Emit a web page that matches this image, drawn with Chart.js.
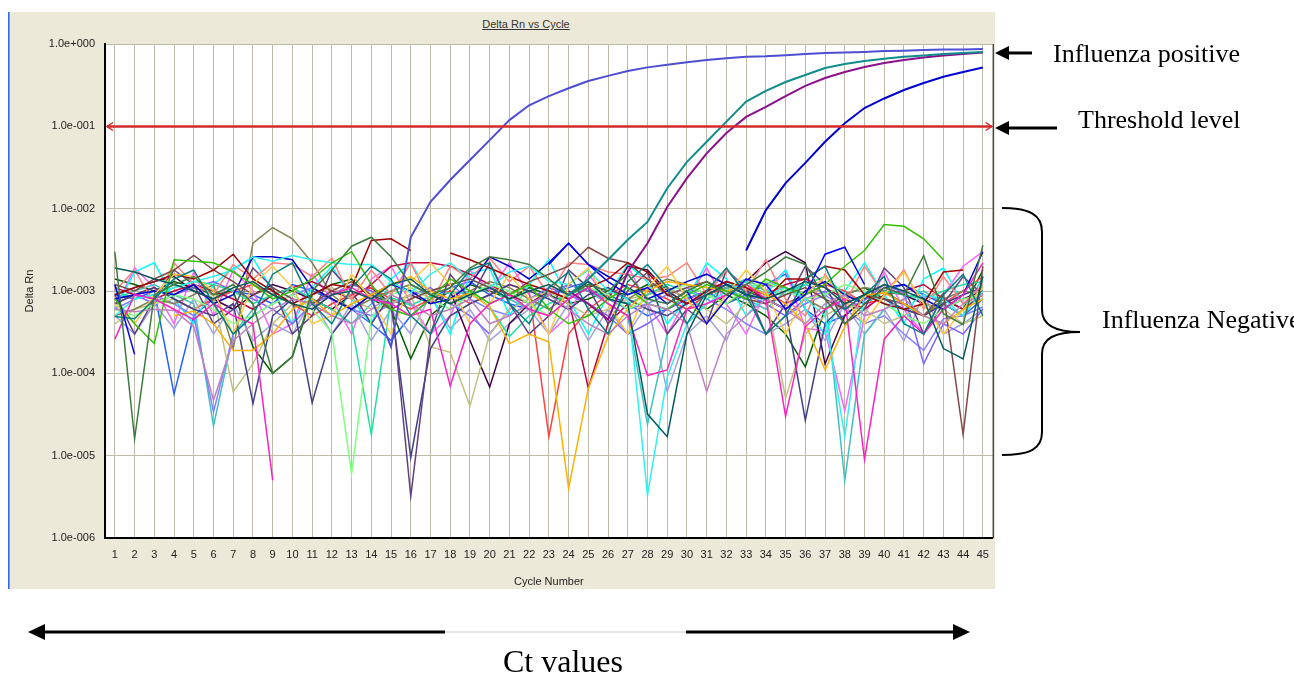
<!DOCTYPE html>
<html>
<head>
<meta charset="utf-8">
<title>Delta Rn vs Cycle</title>
<script src="https://cdn.jsdelivr.net/npm/chart.js@4.4.0/dist/chart.umd.min.js"></script>
<style>
  body { margin: 0; width: 1294px; height: 675px; overflow: hidden; background: #fff; position: relative; }
  #panel { position: absolute; left: 8px; top: 12px; width: 987px; height: 577px; background: #ECE9D8;
           border-left: 1px solid #2F6BE8; box-shadow: inset 1px 0 0 #9A9A9A; box-sizing: border-box; }
  #chartBox { position: absolute; left: 10px; top: 12px; width: 989px; height: 577px; }
  #chartTitle { position: absolute; left: 426px; top: 18px; width: 200px; text-align: center;
                font: 11px "Liberation Sans", Arial, sans-serif; line-height: 13px; color: #333; text-decoration: underline; }
  .note { position: absolute; font-family: "Liberation Serif", "Times New Roman", serif; font-size: 26px; line-height: 26px;
          color: #000; white-space: nowrap; }
  svg { position: absolute; left: 0; top: 0; }
</style>
</head>
<body>
<div id="panel"></div>
<div id="chartTitle">Delta Rn vs Cycle</div>
<div id="chartBox"><canvas id="pcrChart" width="989" height="577"></canvas></div>

<svg width="1294" height="675">
  <!-- positive arrow -->
  <line x1="1032" y1="53" x2="1006" y2="53" stroke="#000" stroke-width="3"/>
  <polygon points="995,53 1009,46 1009,60" fill="#000"/>
  <!-- threshold arrow -->
  <line x1="1057" y1="128" x2="1006" y2="128" stroke="#000" stroke-width="3"/>
  <polygon points="995,128 1009,121 1009,135" fill="#000"/>
  <!-- brace -->
  <path d="M1002,208 C1030,208 1042,215 1042,232 L1042,310 C1042,325 1055,332 1080,332 C1055,332 1042,338 1042,354 L1042,432 C1042,449 1030,455 1002,455"
        fill="none" stroke="#000" stroke-width="2"/>
  <!-- Ct arrow -->
  <line x1="40" y1="632" x2="445" y2="632" stroke="#000" stroke-width="3"/>
  <line x1="445" y1="632" x2="686" y2="632" stroke="#C8C8C8" stroke-width="1"/>
  <line x1="686" y1="632" x2="958" y2="632" stroke="#000" stroke-width="3"/>
  <polygon points="28,632 45,624 45,640" fill="#000"/>
  <polygon points="970,632 953,624 953,640" fill="#000"/>
</svg>

<div class="note" style="left:1053px; top:41px;">Influenza positive</div>
<div class="note" style="left:1078px; top:107px;">Threshold level</div>
<div class="note" style="left:1102px; top:307px;">Influenza Negative</div>
<div class="note" style="left:503px; top:645px; font-size:32px; line-height:32px;">Ct values</div>

<script>
// x categories (cycle number)
const cycles = [1, 2, 3, 4, 5, 6, 7, 8, 9, 10, 11, 12, 13, 14, 15, 16, 17, 18, 19, 20, 21, 22, 23,
                24, 25, 26, 27, 28, 29, 30, 31, 32, 33, 34, 35, 36, 37, 38, 39, 40, 41, 42, 43, 44, 45];

// y axis (log)
const yTickValues = [1e-6, 1e-5, 1e-4, 1e-3, 1e-2, 1e-1, 1];
const yTickLabels = ['1.0e-006', '1.0e-005', '1.0e-004', '1.0e-003', '1.0e-002', '1.0e-001', '1.0e+000'];
const THRESHOLD = 0.1;

// influenza positive curves (Delta Rn), first value is at the start cycle
const posAStart = 14;
const posA = [8e-4, 2.1e-4, 4.5e-3, 1.21e-2, 2.23e-2, 3.9e-2, 6.8e-2, 0.119, 0.18, 0.233, 0.29, 0.355, 0.41, 0.47,
              0.52, 0.56, 0.60, 0.64, 0.67, 0.70, 0.71, 0.73, 0.755, 0.777, 0.79, 0.80, 0.82, 0.83, 0.845, 0.857, 0.86, 0.87];
const posBStart = 24;
const posB = [9e-4, 1.4e-3, 2.4e-3, 4.2e-3, 6.9e-3, 1.77e-2, 3.7e-2, 6.5e-2, 0.114, 0.2, 0.27, 0.345, 0.42, 0.51,
              0.57, 0.62, 0.66, 0.70, 0.725, 0.756, 0.777, 0.80];
const posCStart = 24;
const posC = [1e-3, 7e-4, 4.5e-4, 1.7e-3, 3.8e-3, 1.05e-2, 2.35e-2, 4.7e-2, 8.3e-2, 0.13, 0.172, 0.233, 0.31, 0.386,
              0.457, 0.525, 0.588, 0.64, 0.686, 0.725, 0.756, 0.79];
const posDStart = 33;
const posD = [3.1e-3, 9.6e-3, 2.04e-2, 3.6e-2, 6.5e-2, 0.109, 0.167, 0.218, 0.276, 0.336, 0.40, 0.457, 0.518];

// influenza negative wells, Delta Rn in units of 1e-4 (null = no value plotted)
const NEG_UNIT = 1e-4;
const neg01 = [30, 0.16, 9, 12, 15, 9, 12, 7, 1.0, 1.6, 10, 18, 35, 45, 26, 12, 9, 11, 19, 26, 24, 21, 14, 9, 12,
               10, 16, 8, 7, 10, 13, 9, 12, 17, 26, 21, 8, 4, 7, 11, 9, 27, 5.3, 3.9, 36];
const neg02 = [19, 17, 14, 12, 10, 8, 11, 13, 9, 7, 6, 9, 10, 8, 12, 14, 9, 7, 9, 11, 8, 10, 12, 9, 13,
               8, 7, 0.32, 0.17, 3, 9, 12, 9, 8, 10, 13, 11, 7, 9, 12, 10, 8, 2, 1.5, 15];
const neg03 = [12, 1.7, null, null, null, null, null, null, null, null, null, null, null, null, null, null, null, null, null, null, null, null, 21, 38, 21,
               13, 9, 11, 7, 10, 4, 8, 14, 12, 6, 9, 28, 34, 12, null, null, null, null, null, null];
const neg04 = [4.9, 4.6, 8, 14, 18, 7, 3, 5, 16, 22, 7, 4, 11, 20, 14, 5, 3, 9, 18, 22, 7, 4, 11, 17, 6,
               3, 13, 21, 11, 4, 10, 19, 9, 3, 5, 14, 20, 6, 9, 15, 4, 3, 9, 16, 5];
const neg05 = [2.6, 9.1, 8, 6, 4.5, 7, 5, 4, 0.05, null, 6, 9, 11, 8, 7, 5, 6, 0.7, 4, 7, 9, 6, 5, 8, 11,
               7, 5, 0.94, 1.1, 6, 7, 9, 12, 8, 0.3, 3.7, 6, 8, 0.09, 2.6, 5, 3, 6, 9, 22];
const neg06 = [6, 5.6, 6, 5.8, 3.7, 0.47, 2.5, 4, 6, 8, 7, 5, 4, 6, 9, 7, 5, 6, 8, 4, 5, 7, 9, 6, 4,
               3, 5, 7, 6, 4, 0.6, 3, 5, 8, 6, 4, 7, 9, 5, 6, 8, 5, 4, 7, 9];
const neg07 = [8, 4, 2.3, 24, 23, 22, 17, 12, 8, 10, 14, 22, 30, 12, 6, 5, 8, 14, 10, 7, 9, 12, 6, 4, 5,
               8, 11, 7, 6, 9, 12, 10, 8, 14, 11, 9, 12, 20, 31, 64, 61, 43, 24, null, null];
const neg08 = [null, null, null, 5, 5.7, 4, 1.9, 1.9, 3, 6, 8, 5, 7, 9, 12, 15, 10, 8, 9.4, 6.4, 2.3, 3, 2.4, 0.04, 0.66,
               2.8, 6.1, 10, 13, 12, 11, 10, 12, 9, 7, 4, 1.1, 3.7, 8.9, 9.5, 7, 5, 4, 6, 8];
const neg09 = [7, 4, 9, 16, 15, 10, 3, 12, 20, 11, 4, 5, 16, 8, 3, 13, 22, 12, 4, 7, 16, 8, 3, 12, 19,
               7, 3, 11, 20, 8, 4, 9, 18, 10, 3, 9, 15, 8, 4, 9, 17, 7, 3, 6, 11];
const neg10 = [9, 11, 13, 16, 14, 18, 28, 14, 10, 7, 9, 12, 11, 41, 43, 31, null, 29, 24, 19, 15, 12, 10, 8, 11,
               14, 22, 17, 9, 7, 10, 13, 11, 8, 14, 14, 20, 18, 9, 7, 6, 7, 17, 18, null];
const neg11 = [12, 10, 14, 18, 27, 18, 13, 9, 11, 8, 7, 10, 13, 9, 6, 8, 10, 12, 14, 11, 9, 13, 16, 20, 34,
               25, 22, 14, 9, 11, 13, 10, 8, 7, 9, 11, 8, 6, 9, 8, 7, 5, 9.4, 0.18, 20];
const neg12 = [5, 8, 9, 11, 13, 15, 18, 26, 23, 27, 24, 22, 21, 21, 13, 9.5, 16, 22, 14, 11, 17, 20, 13, 12, 18,
               10, 8, 0.033, 0.9, 4, 7, 10, 13, 9, 11, 8, 5, 0.17, 9.5, 7, 6, 9, 8, 5, 10];
const neg13 = [8, 9, 10, 9, 12, 7, 9, 26, 26, 24, 11, 8, 6, 9, 12, 10, 7, 8, 12, 26, 20, 14, 22, 38, 21,
               15, 11, 8, 10, 13, 16, 12, 9, 8, 6, 10, 13, 9, 7, 11, 12, 8, 6, 9, 30];
const neg14 = [10, 18, 7, 22, 12, 9, 21, 14, 22, 21, 15, 25, 8, 18, 9, 22, 7, 20, 14, 25, 13, 20, 9, 22, 21,
               17, 16, 14, 15, 22, 9, 18, 10, 24, 8, 5, 16, 7, 20, 9, 18, 6, 15, 7, 12];
const neg15 = [6, 5, 7, 9, 8, 6, 4, 5, 7, 9, 6, 3.1, 0.06, 4.8, 9, 11, 8, 6, 9, 12, 10, 7, 5, 8, 11,
               9, 6, 8, 10, 12, 9, 7, 11, 13, 10, 8, 9, 12, 10, 7, 5, 4, 6, 8, 9];
const neg16 = [9, 3, 8, 18, 12, 4, 6, 19, 11, 3, 5, 18, 10, 4, 9, 0.032, 3, 16, 8, 22, 7, 3, 5, 18, 11,
               4, 10, 17, 3, 6, 4, 18, 11, 3, 7, 20, 12, 4, 6, 19, 11, 3, 7, 15, 9];
const neg17 = [7, 9, 11, 8, 6, 5, 7, 0.43, 5, 8, 0.44, 3, 6, 9, 7, 0.095, 2, 5, 7, 9, 12, 10, 8, 6, 9,
               11, 8, 6, 5, 7, 9, 12, 10, 8, 6, 0.27, 4, 7, 9, 8, 6, 5, 7, 9, 11];
const neg18 = [10, 8, 9, 11, 13, 12, 10, 7, 9, 11, 8, 6, 4, 0.18, 8.3, 6.7, 8.7, 9.5, 9.5, 6.4, 2.8, 5, 7, 9, 11,
               8, 7, 9, 12, 10, 8, 11, 14, 10, 9, 12, 15, 9, 7, 10, 9, 8, 10, 12, 13];
const neg19 = [5, 6, 8, 7, 9, 12, 2, 38, 59, 43, 22, 9, 6, 8, 10, 12, 9, 7, 10, 13, 11, 8, 6, 9, 12,
               10, 8, 11, 14, 12, 9, 7, 10, 12, 11, 8, 6, 9, 11, 10, 7, 5, 8, 10, 9];
const neg20 = [4, 6, 7, 8, 6, 9, 0.6, 1.3, 4, 7, 9, 11, 8, 6, 7, 9, 2.1, 1.8, 0.4, 3, 6, 8, 10, 7, 5,
               6, 8, 9, 11, 8, 6, 4, 7, 9, 0.5, 3, 5, 7, 6, 4, 5, 7, 6, 4, 5];
const neg21 = [8, 9, 7, 9, 11, 13, 10, 8, 6, 4, 7, 9, 12, 10, 7, 9, 11, 7, 5, 3, 6, 8, 11, 9, 7,
               5, 3, 4, 6, 8, 10, 12, 9, 7, 5, 8, 10, 6, 7.7, 12, 9.5, 1.3, 4, 3, 6];
const neg22 = [6, 8, 9, 7, 5, 0.34, 3, 5, 7, 9, 11, 8, 6, 5, 7, 9, 10, 12, 8, 6, 5, 7, 9, 12, 10,
               8, 6, 7, 9, 11, 8, 6, 4, 3, 5, 7, 9, 6, 4, 5, 3, 1.9, 4.6, 5, 6.4];
const neg23 = [11, 9, 8, 10, 12, 10, 8, 6, 9, 11, 13, 10, 8, 12, 20, 22, 22, 20, 16, 12, 9, 7, 10, 8, 0.66,
               4, 7, 9, 11, 8, 10, 13, 11, 9, 12, 14, 11, 8, 6, 9, 10, 12, 8, 6, 9];
const neg24 = [7, 9, 11, 8, 6, 8, 10, 12, 9, 7, 5, 7, 9, 11, 8, 6, 8, 10, 7, 9, 12, 10, 0.17, 3, 6,
               9, 12, 10, 8, 6, 9, 11, 14, 10, 7, 9, 12, 10, 7, 8, 6, 5, 7, 10, 15];
const neg25 = [9, 11, 13, 15, 10, 8, 6, 9, 12, 10, 8, 6, 9, 11, 7, 9, 7, 10, 2.5, 0.68, 4, 7, 9, 12, 10,
               8, 20, 18, 10, 7, 9, 11, 13, 22, 30, 22, 1.3, 5, 8, 10, 9, 7, 6, 8, 10];
const neg26 = [6, 17, 22, 8, 4, 12, 19, 25, 10, 4, 11, 20, 8, 4, 14, 22, 9, 3, 16, 19, 5, 12, 24, 8, 3,
               9, 21, 13, 4, 8, 22, 14, 5, 9, 18, 6, 3, 10, 22, 9, 4, 14, 19, 7, 8];
const neg27 = [8, 10, 12, 9, 7, 0.23, 3, 6, 9, 11, 8, 6, 4, 7, 10, 12, 9, 7, 9, 11, 8, 6, 9, 12, 10,
               7, 5, 0.24, 3, 6, 9, 11, 8, 6, 10, 12, 9.4, 0.05, 3, 6, 8, 10, 7, 5, 15];
const neg28 = [5, 3, 7, 3.5, 8, 3, 7, 2.5, 4, 3, 8, 3, 7, 2.5, 6, 3, 9, 3.5, 6, 2.5, 4, 6, 3, 7, 2.5,
               6, 3, 7, 0.6, 3, 5, 2.5, 9, 3, 4, 6, 2.5, 7, 3, 6, 2.5, 9, 3, 4, 6];
const neg29 = [6, 19, 11, 4, 17, 5, 18, 10, 3, 4, 16, 8, 3, 14, 20, 7, 3, 5, 18, 10, 22, 9, 3, 5, 16,
               8, 20, 7, 3, 8, 19, 7, 3, 10, 18, 3.5, 3.3, 0.35, 5, 17, 6, 3, 9, 20, 30];
const neg30 = [14, 12, 10, 13, 11, 9, 10, 2.1, 1.0, 1.6, 9, 12, 14, 8, 6, 1.5, 5, 8, 12, 10, 8, 11, 9, 7, 8,
               10, 9, 12, 11, 8, 6, 9, 7, 5, 3, 1.2, 6, 9, 11, 8, 7, 5, 8, 6, 18];
const neg31 = [9, 8, 10, 0.56, 5, 8, 10, 9, 7, 12, 10, 8, 6, 4, 2.5, 5, 8, 11, 13, 9, 7, 6, 9, 11, 13,
               9, 7, 5, 6, 8, 10, 7, 9, 12, 16, 6, 4, 5, 8, 10, 12, 9, 7, 5, 8];

const negSeries = [neg01, neg02, neg03, neg04, neg05, neg06, neg07, neg08, neg09, neg10, neg11, neg12, neg13, neg14, neg15, neg16,
                   neg17, neg18, neg19, neg20, neg21, neg22, neg23, neg24, neg25, neg26, neg27, neg28, neg29, neg30, neg31];
const negColors = ['#3C7A3C', '#005A5A', '#0000FF', '#008080', '#FF20C0', '#C080C0', '#30C000', '#FFB000', '#FFC840', '#A00000',
                   '#804848', '#30F0F0', '#0000C8', '#FF8080', '#80FF80', '#604080', '#404088', '#20E0A0', '#808050', '#C0C080',
                   '#8060FF', '#8080FF', '#C00040', '#FF4040', '#400040', '#00FFFF', '#40C0C0', '#A0A0E0', '#FF60FF', '#006000', '#2060FF'];
const posColors = ['#4E4ED2', '#108C8C', '#8B108B', '#0000D0'];

function fromCycle(start, vals) {
  return cycles.map(c => (c < start ? null : vals[c - start]));
}

const datasets = [];
[[posAStart, posA], [posBStart, posB], [posCStart, posC], [posDStart, posD]].forEach(([s, vals], i) => {
  datasets.push({ data: fromCycle(s, vals), borderColor: posColors[i], borderWidth: 2 });
});
negSeries.forEach((vals, i) => {
  datasets.push({ data: vals.map(v => (v === null ? null : v * NEG_UNIT)), borderColor: negColors[i], borderWidth: 1.5 });
});

// white plot area, red threshold line with arrow heads, right frame line
const plotFrame = {
  id: 'plotFrame',
  beforeDraw(chart) {
    const { ctx, chartArea: a } = chart;
    ctx.save();
    ctx.fillStyle = '#fff';
    ctx.fillRect(a.left, a.top, a.right - a.left, a.bottom - a.top);
    ctx.restore();
  },
  afterDatasetsDraw(chart) {
    const { ctx, chartArea: a, scales: { y } } = chart;
    const ty = Math.round(y.getPixelForValue(THRESHOLD)) + 0.5;
    ctx.save();
    ctx.strokeStyle = '#D32B2B';
    ctx.lineWidth = 2.5;
    ctx.beginPath();
    ctx.moveTo(a.left + 2, ty);
    ctx.lineTo(a.right - 1, ty);
    ctx.stroke();
    ctx.lineWidth = 1.5;
    ctx.beginPath();
    ctx.moveTo(a.left + 8, ty - 4); ctx.lineTo(a.left + 2, ty); ctx.lineTo(a.left + 8, ty + 4);
    ctx.moveTo(a.right - 7, ty - 4); ctx.lineTo(a.right - 1, ty); ctx.lineTo(a.right - 7, ty + 4);
    ctx.stroke();
    ctx.strokeStyle = '#000';
    ctx.lineWidth = 1;
    ctx.beginPath();
    ctx.moveTo(a.right + 0.5, a.top);
    ctx.lineTo(a.right + 0.5, a.bottom);
    ctx.stroke();
    ctx.restore();
  }
};

const axisFont = { family: 'Liberation Sans', size: 11 };

new Chart(document.getElementById('pcrChart'), {
  type: 'line',
  data: { labels: cycles, datasets: datasets },
  options: {
    responsive: false,
    animation: false,
    events: [],
    elements: { point: { radius: 0 }, line: { tension: 0 } },
    layout: { padding: { top: 32, right: 2, bottom: 0, left: 0 } },
    plugins: { legend: { display: false }, tooltip: { enabled: false } },
    scales: {
      x: {
        offset: true,
        grid: { color: '#BFB9A8', lineWidth: 1, drawTicks: false },
        border: { color: '#000', width: 2 },
        ticks: { autoSkip: false, maxRotation: 0, padding: 10, color: '#222', font: axisFont },
        title: { display: true, text: 'Cycle Number', color: '#222', font: axisFont, padding: { top: 0, bottom: 0 } },
        afterFit: axis => { axis.height = 51; }
      },
      y: {
        type: 'logarithmic',
        min: 1e-6,
        max: 1,
        afterBuildTicks: axis => { axis.ticks = yTickValues.map(v => ({ value: v })); },
        grid: { color: '#BFB9A8', lineWidth: 1, drawTicks: false },
        border: { color: '#000', width: 2 },
        ticks: { padding: 10, color: '#222', font: axisFont, callback: (v, i) => yTickLabels[i] },
        title: { display: true, text: 'Delta Rn', color: '#222', font: axisFont, padding: { top: 13, bottom: 0 } },
        afterFit: axis => { axis.width = 95; }
      }
    }
  },
  plugins: [plotFrame]
});
</script>
</body>
</html>
